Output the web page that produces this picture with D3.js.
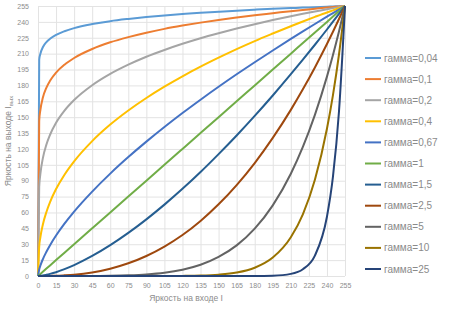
<!DOCTYPE html>
<html>
<head>
<meta charset="utf-8">
<script src="https://cdnjs.cloudflare.com/ajax/libs/d3/7.8.5/d3.min.js"></script>
<style>
body { margin: 0; background: #fff; }
text { font-family: "Liberation Sans", Arial, sans-serif; fill: #8c8c8c; }
.grid line { stroke: #e3e3e3; stroke-width: 1; }
.grid path { display: none; }
.axis path, .axis line { display: none; }
.axis text { font-size: 7px; }
.series { fill: none; stroke-width: 2; }
.legend text { font-size: 10px; fill: #8a8a8a; }
</style>
</head>
<body>
<svg id="chart" width="452" height="310"></svg>
<script>
// входная яркость (точки отсчёта)
var xIn = [0,1,2,4,7,10,15,22,30,45,60,75,90,105,120,135,150,165,180,195,210,220,230,240,245,250,255];
var ticks = d3.range(0, 256, 15);

var names = ["гамма=0,04","гамма=0,1","гамма=0,2","гамма=0,4","гамма=0,67","гамма=1",
             "гамма=1,5","гамма=2,5","гамма=5","гамма=10","гамма=25"];
var colors = ["#5B9BD5","#ED7D31","#A5A5A5","#FFC000","#4472C4","#70AD47",
              "#255E91","#9E480E","#636363","#997300","#264478"];

var g004 = [0,204.3,210.0,216.0,220.9,224.0,227.7,231.2,234.1,237.9,240.7,242.8,244.6,246.1,247.4,248.6,249.6,250.6,251.5,252.3,253.0,253.5,253.9,254.4,254.6,254.8,255];
var g01  = [0,146.5,157.0,168.3,178.0,184.4,192.1,199.6,205.9,214.4,220.7,225.6,229.8,233.4,236.5,239.3,241.8,244.1,246.3,248.2,250.1,251.3,252.4,253.5,254.0,254.5,255];
var g02  = [0,84.2,96.7,111.1,124.2,133.4,144.7,156.2,166.2,180.2,190.9,199.6,207.1,213.5,219.3,224.6,229.3,233.7,237.8,241.7,245.3,247.6,249.8,251.9,253.0,254.0,255];
var g04  = [0,27.8,36.7,48.4,60.5,69.8,82.1,95.7,108.3,127.4,143.0,156.3,168.1,178.8,188.6,197.7,206.2,214.3,221.9,229.0,235.9,240.4,244.7,248.9,250.9,253.0,255];
var g067 = [0,6.2,9.9,15.8,22.9,29.1,38.2,49.4,60.8,79.7,96.7,112.3,126.9,140.7,153.9,166.5,178.7,190.5,201.9,213.0,223.9,231.0,238.0,244.9,248.3,251.6,255];
var g1   = [0,1,2,4,7,10,15,22,30,45,60,75,90,105,120,135,150,165,180,195,210,220,230,240,245,250,255];
var g15  = [0,0.1,0.2,0.5,1.2,2.0,3.6,6.5,10.3,18.9,29.1,40.7,53.5,67.4,82.3,98.2,115.1,132.7,151.2,170.5,190.6,204.4,218.4,232.8,240.2,247.5,255];
var g25  = [0,0,0,0,0,0.1,0.2,0.6,1.2,3.3,6.9,12.0,18.9,27.8,38.7,52.0,67.7,85.9,106.7,130.4,156.9,176.3,197.0,219.1,230.7,242.7,255];
var g5   = [0,0,0,0,0,0,0,0,0,0,0.2,0.6,1.4,3.0,5.9,10.6,18.0,28.9,44.7,66.7,96.6,121.9,152.2,188.3,208.8,231.0,255];
var g10  = [0,0,0,0,0,0,0,0,0,0,0,0,0,0,0.1,0.4,1.3,3.3,7.8,17.4,36.6,58.3,90.9,139.1,170.9,209.2,255];
var g25b = [0,0,0,0,0,0,0,0,0,0,0,0,0,0,0,0,0,0,0,0.3,2.0,6.4,19.3,56.0,93.8,155.4,255];

var series = [g004, g01, g02, g04, g067, g1, g15, g25, g5, g10, g25b];

var svg = d3.select("#chart");
var mLeft = 38, mRight = 345, mTop = 6, mBottom = 276;

var x = d3.scaleLinear().domain([0, 255]).range([mLeft, mRight]);
var y = d3.scaleLinear().domain([0, 255]).range([mBottom, mTop]);

svg.append("g")
  .attr("class", "grid")
  .attr("transform", `translate(0, ${mBottom})`)
  .call(d3.axisBottom(x).tickValues(ticks).tickSize(-(mBottom - mTop)).tickFormat(""));

svg.append("g")
  .attr("class", "grid")
  .attr("transform", `translate(${mLeft}, 0)`)
  .call(d3.axisLeft(y).tickValues(ticks).tickSize(-(mRight - mLeft)).tickFormat(""));

svg.append("g")
  .attr("class", "axis")
  .attr("transform", `translate(0, ${mBottom + 4})`)
  .call(d3.axisBottom(x).tickValues(ticks).tickSize(0).tickFormat(d3.format("d")));

svg.append("g")
  .attr("class", "axis")
  .attr("transform", `translate(${mLeft - 6}, 0)`)
  .call(d3.axisLeft(y).tickValues(ticks).tickSize(0).tickFormat(d3.format("d")));

var line = d3.line()
  .x((d, i) => x(xIn[i]))
  .y(d => y(d))
  .curve(d3.curveMonotoneX);

series.forEach(function(s, i) {
  svg.append("path")
    .datum(s)
    .attr("class", "series")
    .attr("stroke", colors[i])
    .attr("d", line);
});

// подписи осей
svg.append("text")
  .attr("x", 186)
  .attr("y", 301)
  .attr("text-anchor", "middle")
  .style("font-size", "8.5px")
  .text("Яркость на входе I");

var yt = svg.append("text")
  .attr("transform", `translate(11, ${(mTop + mBottom) / 2}) rotate(-90)`)
  .attr("text-anchor", "middle")
  .style("font-size", "8.5px");
yt.append("tspan").text("Яркость на выходе I");
yt.append("tspan").attr("dy", 2).style("font-size", "6px").text("вых");

// легенда
var legend = svg.append("g").attr("class", "legend");
var items = legend.selectAll("g")
  .data(names)
  .enter().append("g")
  .attr("transform", (d, i) => `translate(365, ${58 + i * 21.1})`);

items.append("line")
  .attr("x1", 0).attr("x2", 16)
  .attr("stroke", (d, i) => colors[i])
  .attr("stroke-width", 2);

items.append("text")
  .attr("x", 19)
  .attr("dy", "0.35em")
  .text(d => d);
</script>
</body>
</html>
